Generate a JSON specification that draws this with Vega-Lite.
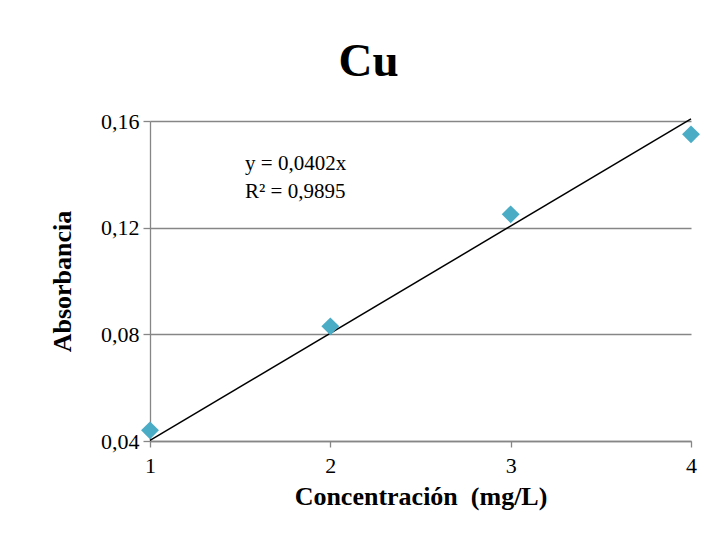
{
  "$schema": "https://vega.github.io/schema/vega-lite/v6.json",
  "width": 541,
  "height": 320,
  "autosize": {"type": "none"},
  "padding": {"left": 150, "top": 121, "right": 25, "bottom": 110},
  "background": "white",
  "title": {
    "text": "Cu",
    "font": "Liberation Serif",
    "fontSize": 47,
    "fontWeight": "bold",
    "color": "black",
    "anchor": "middle",
    "frame": "group",
    "baseline": "alphabetic",
    "offset": 43,
    "dx": -52,
    "dy": 56
  },
  "datasets": {
    "points": [
      {"conc": 1, "abs": 0.044},
      {"conc": 2, "abs": 0.083},
      {"conc": 3, "abs": 0.125},
      {"conc": 4, "abs": 0.155}
    ],
    "trend": [
      {"conc": 1, "abs": 0.0402},
      {"conc": 4, "abs": 0.1608}
    ],
    "note": [
      {"x": 1.527, "y": 0.1416}
    ]
  },
  "layer": [
    {
      "data": {"name": "trend"},
      "mark": {"type": "line", "color": "black", "strokeWidth": 1.5, "clip": false},
      "encoding": {
        "x": {
          "field": "conc",
          "type": "quantitative",
          "scale": {"domain": [1, 4], "nice": false, "zero": false},
          "axis": {
            "values": [1, 2, 3, 4],
            "format": "d",
            "grid": false,
            "domainColor": "#868686",
            "domainWidth": 1.3,
            "tickColor": "#868686",
            "tickWidth": 1.3,
            "tickSize": 6,
            "labelFont": "Liberation Serif",
            "labelFontSize": 22,
            "labelColor": "black",
            "labelPadding": 8,
            "labelFlush": false,
            "title": "Concentración\u00a0 (mg/L)",
            "titleFont": "Liberation Serif",
            "titleFontSize": 26,
            "titleFontWeight": "bold",
            "titleColor": "black",
            "titlePadding": 7
          }
        },
        "y": {
          "field": "abs",
          "type": "quantitative",
          "scale": {"domain": [0.04, 0.16], "nice": false, "zero": false},
          "axis": {
            "values": [0.04, 0.08, 0.12, 0.16],
            "grid": true,
            "gridColor": "#868686",
            "gridWidth": 1.3,
            "domainColor": "#868686",
            "domainWidth": 1.3,
            "tickColor": "#868686",
            "tickWidth": 1.3,
            "tickSize": 7,
            "labelExpr": "replace(format(datum.value, '.2f'), '.', ',')",
            "labelFont": "Liberation Serif",
            "labelFontSize": 22,
            "labelColor": "black",
            "labelPadding": 4,
            "title": "Absorbancia",
            "titleFont": "Liberation Serif",
            "titleFontSize": 26,
            "titleFontWeight": "bold",
            "titleColor": "black",
            "titlePadding": 25
          }
        }
      }
    },
    {
      "data": {"name": "points"},
      "mark": {"type": "point", "shape": "diamond", "filled": true, "color": "#4BACC6", "opacity": 1, "size": 320},
      "encoding": {
        "x": {"field": "conc", "type": "quantitative"},
        "y": {"field": "abs", "type": "quantitative"}
      }
    },
    {
      "data": {"name": "note"},
      "mark": {
        "type": "text",
        "text": ["y = 0,0402x", "R² = 0,9895"],
        "font": "Liberation Serif",
        "fontSize": 21,
        "color": "black",
        "align": "left",
        "baseline": "alphabetic",
        "lineHeight": 28
      },
      "encoding": {
        "x": {"field": "x", "type": "quantitative"},
        "y": {"field": "y", "type": "quantitative"}
      }
    }
  ],
  "config": {
    "view": {"stroke": null}
  }
}
